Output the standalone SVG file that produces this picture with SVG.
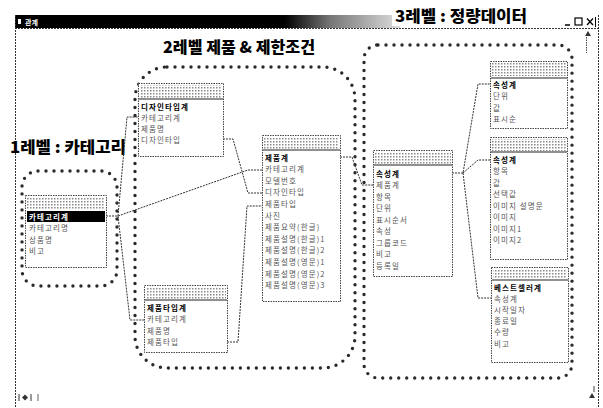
<svg xmlns="http://www.w3.org/2000/svg" width="603" height="408" viewBox="0 0 603 408">
<defs>
<pattern id="dith" width="3" height="3" patternUnits="userSpaceOnUse"><rect width="3" height="3" fill="#fff"/><rect width="1.5" height="1.5" fill="#8a8a8a"/></pattern>
<linearGradient id="tbar" x1="15" y1="0" x2="400" y2="0" gradientUnits="userSpaceOnUse">
<stop offset="0" stop-color="#000"/><stop offset="0.7" stop-color="#000"/><stop offset="0.82" stop-color="#777"/><stop offset="1" stop-color="#ddd"/>
</linearGradient>
</defs>
<style>
.frame{fill:none;stroke:#333;stroke-width:1;stroke-dasharray:2 1}
.bead{fill:none;stroke:#2a2a2a;stroke-width:3.4;stroke-dasharray:0 8;stroke-linecap:round}
.box{fill:#fff;stroke:#444;stroke-width:1;stroke-dasharray:1.5 1}
.ttl{fill:url(#dith);stroke:none}
.sep{stroke:#222;stroke-width:1.2}
.f{font-family:"Noto Sans CJK KR","Noto Sans",sans-serif;font-size:7.5px;letter-spacing:1.1px;fill:#555}
.k{font-family:"Noto Sans CJK KR","Noto Sans",sans-serif;font-size:7.5px;letter-spacing:1.1px;fill:#000;font-weight:bold}
.big{font-family:"Noto Sans CJK KR","Noto Sans",sans-serif;font-size:16px;font-weight:900;fill:#000}
.conn{fill:none;stroke:#333;stroke-width:1;stroke-dasharray:2 1}
</style>
<rect width="603" height="408" fill="#fff"/>

<g id="window">
<rect x="15" y="15" width="385" height="13" fill="url(#tbar)"/>
<rect x="18" y="19" width="3" height="5" fill="#fff"/>
<text x="25" y="25" font-family="Noto Sans CJK KR,sans-serif" font-size="7" font-weight="bold" fill="#fff">관계</text>
<line x1="15" y1="28.5" x2="598" y2="28.5" class="frame"/>
<line x1="15.5" y1="15" x2="15.5" y2="408" class="frame"/>
<line x1="598.5" y1="15" x2="598.5" y2="408" class="frame"/>
<line x1="565" y1="25" x2="570" y2="25" stroke="#000" stroke-width="1.5"/>
<rect x="575" y="18" width="7" height="7" fill="none" stroke="#000" stroke-width="1.2"/>
<path d="M587 18.5 L593 25 M593 18.5 L587 25" stroke="#000" stroke-width="1.3"/>
<line x1="595.5" y1="17" x2="595.5" y2="27" stroke="#000" stroke-width="1"/>
<path d="M588 31 L591 36 L585 36 Z" fill="#333"/>
<line x1="586.5" y1="37" x2="586.5" y2="53" stroke="#444" stroke-width="1" stroke-dasharray="1.5 1"/>
<path d="M589 398 L592 393 L595 398 Z" fill="#333"/>
<line x1="594" y1="386" x2="594" y2="392" stroke="#444" stroke-width="1"/>
<line x1="19" y1="394" x2="19" y2="401" stroke="#333" stroke-width="1"/>
<path d="M22 397.5 L25 394.5 L28 397.5 L25 400.5 Z" fill="#333"/>
<line x1="31" y1="394" x2="31" y2="401" stroke="#333" stroke-width="1"/>
<line x1="38" y1="394" x2="38" y2="401" stroke="#666" stroke-width="1"/>
</g>

<g id="titles">
<rect x="392" y="6" width="138" height="20" fill="#fff"/>
<text class="big" x="395" y="22" textLength="132" lengthAdjust="spacingAndGlyphs">3레벨 : 정량데이터</text>
<text class="big" x="163" y="53" textLength="152" lengthAdjust="spacingAndGlyphs">2레벨 제품 &amp; 제한조건</text>
<text class="big" x="10" y="153" textLength="116" lengthAdjust="spacingAndGlyphs">1레벨 : 카테고리</text>
</g>

<g id="regions">
<rect class="bead" x="22" y="171" width="95" height="115" rx="16"/>
<rect class="bead" x="135" y="67" width="220" height="301" rx="32"/>
<rect class="bead" x="364" y="45" width="208" height="333" rx="14"/>
</g>

<g id="connectors">
<path class="conn" d="M106 216 H118 L127 117 H138"/>
<path class="conn" d="M118 216 L130 320 H144"/>
<path class="conn" d="M118 216 L248 170 H262"/>
<path class="conn" d="M223 139 H233 L248 193 H262"/>
<path class="conn" d="M227 342 H238 L247 206 H262"/>
<path class="conn" d="M340 157 H352 L362 185 H373"/>
<path class="conn" d="M452 173 H463 L478 84 H490"/>
<path class="conn" d="M463 173 L478 160 H490"/>
<path class="conn" d="M463 173 L478 298 H491"/>
</g>

<g id="tbl-category">
<rect class="box" x="25.5" y="195.5" width="81" height="72"/>
<rect class="ttl" x="27" y="197" width="78" height="12"/>
<rect x="27" y="211" width="78" height="11" fill="#000"/>
<text class="k" x="29" y="219.5" style="fill:#fff">카테고리계</text>
<text class="f" x="29" y="231">카테고리명</text>
<text class="f" x="29" y="242.5">상품명</text>
<text class="f" x="29" y="254">비고</text>
</g>

<g id="tbl-design">
<rect class="box" x="138.5" y="83.5" width="85" height="73"/>
<rect class="ttl" x="140" y="85" width="82" height="13"/>
<line class="sep" x1="139" y1="99" x2="223" y2="99"/>
<text class="k" x="141" y="109.5">디자인타입계</text>
<text class="f" x="141" y="120.5">카테고리계</text>
<text class="f" x="141" y="131.5">제품명</text>
<text class="f" x="141" y="142.5">디자인타입</text>
</g>

<g id="tbl-type">
<rect class="box" x="144.5" y="285.5" width="83" height="67"/>
<rect class="ttl" x="146" y="287" width="80" height="12"/>
<line class="sep" x1="145" y1="300" x2="227" y2="300"/>
<text class="k" x="147" y="310.5">제품타입계</text>
<text class="f" x="147" y="322">카테고리계</text>
<text class="f" x="147" y="333.5">제품명</text>
<text class="f" x="147" y="345">제품타입</text>
</g>

<g id="tbl-product">
<rect class="box" x="262.5" y="135.5" width="78" height="166"/>
<rect class="ttl" x="264" y="137" width="75" height="12"/>
<line class="sep" x1="263" y1="150" x2="340" y2="150"/>
<text class="k" x="265" y="160.5">제품계</text>
<text class="f" x="265" y="172.1">카테고리계</text>
<text class="f" x="265" y="183.7">모델번호</text>
<text class="f" x="265" y="195.3">디자인타입</text>
<text class="f" x="265" y="206.9">제품타입</text>
<text class="f" x="265" y="218.5">사진</text>
<text class="f" x="265" y="230.1">제품요약(한글)</text>
<text class="f" x="265" y="241.7">제품설명(한글)1</text>
<text class="f" x="265" y="253.3">제품설명(한글)2</text>
<text class="f" x="265" y="264.9">제품설명(영문)1</text>
<text class="f" x="265" y="276.5">제품설명(영문)2</text>
<text class="f" x="265" y="288.1">제품설명(영문)3</text>
</g>

<g id="tbl-attr">
<rect class="box" x="373.5" y="150.5" width="79" height="126"/>
<rect class="ttl" x="375" y="152" width="76" height="12"/>
<line class="sep" x1="374" y1="165" x2="452" y2="165"/>
<text class="k" x="376" y="176.5">속성계</text>
<text class="f" x="376" y="188">제품계</text>
<text class="f" x="376" y="199.5">항목</text>
<text class="f" x="376" y="211">단위</text>
<text class="f" x="376" y="222.5">표시순서</text>
<text class="f" x="376" y="234">속성</text>
<text class="f" x="376" y="245.5">그룹코드</text>
<text class="f" x="376" y="257">비고</text>
<text class="f" x="376" y="268.5">등록일</text>
</g>

<g id="tbl-attr-e">
<rect class="box" x="490.5" y="61.5" width="77" height="67"/>
<rect class="ttl" x="492" y="63" width="74" height="13"/>
<line class="sep" x1="491" y1="78" x2="567" y2="78"/>
<text class="k" x="493" y="87.5">속성계</text>
<text class="f" x="493" y="99">단위</text>
<text class="f" x="493" y="110.5">값</text>
<text class="f" x="493" y="122">표시순</text>
</g>

<g id="tbl-attr-f">
<rect class="box" x="490.5" y="137.5" width="77" height="122"/>
<rect class="ttl" x="492" y="139" width="74" height="12"/>
<line class="sep" x1="491" y1="152" x2="567" y2="152"/>
<text class="k" x="493" y="162.5">속성계</text>
<text class="f" x="493" y="174">항목</text>
<text class="f" x="493" y="185.5">값</text>
<text class="f" x="493" y="197">선택값</text>
<text class="f" x="493" y="208.5">이미지 설명문</text>
<text class="f" x="493" y="220">이미지</text>
<text class="f" x="493" y="231.5">이미지1</text>
<text class="f" x="493" y="243">이미지2</text>
</g>

<g id="tbl-best">
<rect class="box" x="491.5" y="267.5" width="77" height="95"/>
<rect class="ttl" x="493" y="269" width="74" height="10"/>
<line class="sep" x1="492" y1="280" x2="568" y2="280"/>
<text class="k" x="494" y="290.5">베스트셀러계</text>
<text class="f" x="494" y="301.5">속성계</text>
<text class="f" x="494" y="312.5">시작일자</text>
<text class="f" x="494" y="323.5">종료일</text>
<text class="f" x="494" y="335">수량</text>
<text class="f" x="494" y="346.5">비고</text>
</g>
</svg>
